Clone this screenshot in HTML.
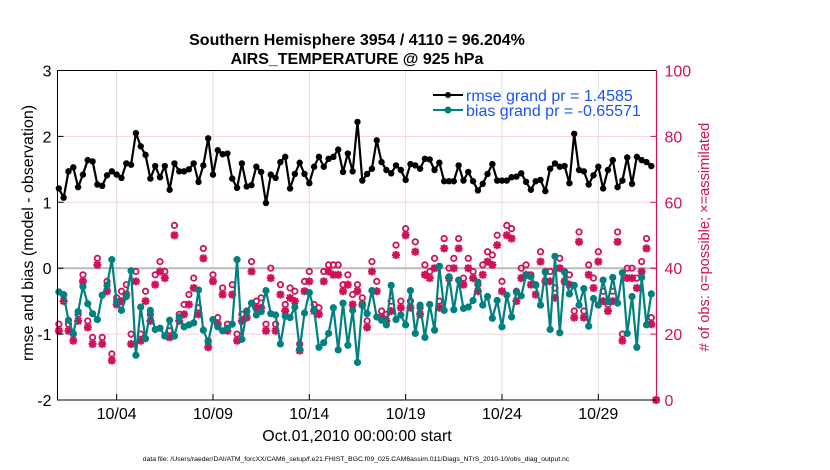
<!DOCTYPE html>
<html><head><meta charset="utf-8"><style>
html,body{margin:0;padding:0;background:#fff;}
svg{display:block;font-family:"Liberation Sans",sans-serif;}
</style></head><body>
<svg id="chart" width="830" height="470" viewBox="0 0 830 470" xmlns="http://www.w3.org/2000/svg">
<text x="357" y="45" text-anchor="middle" font-size="16" font-weight="bold">Southern Hemisphere 3954 / 4110 = 96.204%</text>
<text x="357" y="64" text-anchor="middle" font-size="16" font-weight="bold">AIRS_TEMPERATURE @ 925 hPa</text>
<g id="grid"></g>
<g id="marks"></g>
<g id="axes"></g>
<text transform="translate(33,233) rotate(-90)" text-anchor="middle" font-size="16">rmse and bias (model - observation)</text>
<text transform="translate(709,237) rotate(-90)" text-anchor="middle" font-size="14.6" fill="#d0105a"># of obs: o=possible; ×=assimilated</text>
<text x="357" y="441" text-anchor="middle" font-size="16">Oct.01,2010 00:00:00 start</text>
<text x="356" y="461" text-anchor="middle" font-size="6.8">data file: /Users/raeder/DAI/ATM_forcXX/CAM6_setup/f.e21.FHIST_BGC.f09_025.CAM6assim.011/Diags_NTrS_2010-10/obs_diag_output.nc</text>
<g>
<line x1="433" y1="95" x2="463" y2="95" stroke="#000" stroke-width="2"/><circle cx="448" cy="95" r="3" fill="#000"/>
<text x="466" y="101" font-size="16" fill="#1a55f0">rmse grand pr = 1.4585</text>
<line x1="433" y1="110" x2="463" y2="110" stroke="#008080" stroke-width="2"/><circle cx="448" cy="110" r="3.5" fill="#008080"/>
<text x="466" y="116" font-size="16" fill="#1a55f0">bias grand pr = -0.65571</text>
</g>
</svg>
<script>
const rmse = [1.21,1.07,1.47,1.53,1.23,1.42,1.64,1.62,1.27,1.25,1.41,1.47,1.42,1.37,1.59,1.57,2.05,1.85,1.72,1.36,1.55,1.38,1.55,1.19,1.59,1.47,1.47,1.50,1.59,1.31,1.56,1.97,
1.42,1.79,1.73,1.74,1.36,1.22,1.59,1.24,1.26,1.54,1.46,0.99,1.42,1.37,1.61,1.69,1.21,1.43,1.60,1.43,1.29,1.54,1.69,1.54,1.66,1.69,1.80,1.46,1.74,1.47,2.22,
1.33,1.43,1.51,1.94,1.61,1.49,1.44,1.56,1.49,1.34,1.58,1.56,1.51,1.66,1.65,1.49,1.60,1.32,1.32,1.32,1.56,1.33,1.46,1.32,1.18,1.28,1.43,1.58,1.33,1.33,1.33,
1.38,1.39,1.44,1.31,1.19,1.32,1.34,1.17,1.51,1.59,1.54,1.55,1.29,2.04,1.49,1.47,1.27,1.41,1.54,1.21,1.49,1.64,1.23,1.33,1.68,1.28,1.69,1.64,1.61,1.55,null];
const bias = [-0.36,-0.41,-0.79,-0.99,-0.66,-0.28,-0.54,-0.69,-0.78,-0.41,-0.26,0.13,-0.51,-0.64,-0.43,-0.04,-1.32,-0.59,-1.07,-0.64,-0.93,-0.91,-1.03,-0.79,-1.03,-0.74,-0.89,-0.86,-0.83,-0.33,-0.94,-1.12,
-0.78,-0.89,-0.95,-0.91,-0.85,0.13,-1.08,-0.66,-0.53,-0.71,-0.66,-0.34,-0.69,-0.71,-1.15,-0.73,-0.75,-0.59,-1.23,-0.68,-0.37,-0.63,-1.20,-1.13,-0.99,-0.60,-1.24,-0.53,-1.17,-0.64,-1.43,
-0.56,-0.69,-0.34,-0.74,-0.79,-0.86,-0.26,-0.78,-0.71,-0.86,-0.34,-0.99,-0.56,-1.05,-0.55,-0.94,0.03,-0.64,-0.13,-0.63,-0.18,-0.61,-0.59,-0.49,-0.21,-0.56,-0.43,-0.76,-0.49,-0.89,-0.41,
-0.74,-0.36,-0.42,-0.11,-0.13,-0.26,-0.56,-0.06,-0.93,0.18,-0.98,-0.06,-0.39,-0.26,-0.56,-0.31,-0.88,-0.46,-0.56,-0.18,-0.51,-0.14,-0.53,-0.07,-0.99,-0.43,-1.20,-0.14,-0.86,-0.39,null];
const nAssim = [21,30,21,18,24,36,22,17,41,17,33,12,29,30,32,17,36,18,30,24,35,39,37,19,50,24,26,29,34,26,43,16,
36,23,32,21,32,18,24,25,39,28,28,21,37,21,32,27,31,30,15,33,36,27,26,36,39,38,38,33,35,29,33,
29,22,39,33,25,24,27,44,28,50,28,45,26,38,37,40,28,46,37,40,46,35,40,37,33,38,42,41,47,33,50,
49,30,37,38,35,32,42,36,36,31,40,36,35,25,48,25,38,34,42,30,27,30,48,18,37,37,34,39,46,23,0];
const nPoss = [23,32,23,20,26,38,24,19,43,19,36,14,31,33,35,20,39,20,33,26,38,42,39,21,53,26,29,32,37,28,46,18,
38,25,34,23,35,20,26,27,42,30,31,23,40,23,35,29,34,33,17,36,39,29,28,39,41,41,41,35,38,32,35,
31,24,42,36,27,26,30,47,30,52,30,48,28,41,39,43,30,49,40,43,49,37,43,39,35,41,45,44,50,36,53,
52,33,40,41,38,35,45,39,39,34,43,39,38,27,51,27,41,37,45,33,29,33,51,20,40,40,37,42,49,25,0];
const leftTicks = [-2,-1,0,1,2,3];
const rightTicks = [0,20,40,60,80,100];
const dateTickDays = [3,8,13,18,23,28];
const dateTickLabels = ['10/04','10/09','10/14','10/19','10/24','10/29'];
const stepDays = 0.25;

const X0=57.5,X1=656.5,Y0=70.5,Y1=400;
const D0=-0.07,D1=31.02;
function xs(d){return X0+(d-D0)/(D1-D0)*(X1-X0);}
function yl(v){return Y1-(v+2)/5*(Y1-Y0);}
function yr(v){return Y1-v/100*(Y1-Y0);}
const NS='http://www.w3.org/2000/svg';
function mk(parent,tag,attrs){const e=document.createElementNS(NS,tag);for(const k in attrs)e.setAttribute(k,attrs[k]);parent.appendChild(e);return e;}
const grid=document.getElementById('grid'),marks=document.getElementById('marks'),axes=document.getElementById('axes');
const PINK='#d0105a';

dateTickDays.forEach((d,i)=>{
  const g=mk(grid,'line',{x1:xs(d),x2:xs(d),y1:Y0,y2:Y1,stroke:'#dddddd','stroke-width':1});
  
  
  const t=mk(axes,'line',{x1:xs(d),x2:xs(d),y1:Y1,y2:Y1-6,stroke:'#000','stroke-width':1});
  
  
  const l=mk(axes,'text',{x:xs(d),y:Y1+19,'text-anchor':'middle','font-size':16});
  l.textContent=dateTickLabels[i];
  
  
});
rightTicks.forEach(v=>{
  if(v>0&&v<100){
    const g=mk(grid,'line',{x1:X0,x2:X1,y1:yr(v),y2:yr(v),stroke:'#f3d3df','stroke-width':1});
    
    
  }
  const t=mk(axes,'line',{x1:X1,x2:X1-6,y1:yr(v),y2:yr(v),stroke:PINK,'stroke-width':1});
  
  
  const l=mk(axes,'text',{x:X1+8,y:yr(v)+6,'font-size':16,fill:PINK});
  l.textContent=v;
  
  
});
leftTicks.forEach(v=>{
  const t=mk(axes,'line',{x1:X0,x2:X0+6,y1:yl(v),y2:yl(v),stroke:'#000','stroke-width':1});
  
  
  const l=mk(axes,'text',{x:X0-6,y:yl(v)+6,'text-anchor':'end','font-size':16});
  l.textContent=v;
  
  
});
const zl=mk(grid,'line',{x1:X0,x2:X1,y1:yl(0),y2:yl(0),stroke:'#bbbbbb','stroke-width':2});



function series(vals,color,r,name){
  let d='';let pen=false;
  vals.forEach((v,i)=>{ if(v===null){pen=false;return;} d+=(pen?'L':'M')+xs(i*stepDays).toFixed(1)+','+yl(v).toFixed(1); pen=true;});
  const p=mk(marks,'path',{d:d,fill:'none',stroke:color,'stroke-width':2.2,'stroke-linejoin':'round'});
  
  
  vals.forEach((v,i)=>{ if(v===null)return;
    const c=mk(marks,'circle',{cx:xs(i*stepDays),cy:yl(v),r:r,fill:color});
    
    
  });
}
nPoss.forEach((v,i)=>{
  const c=mk(marks,'circle',{cx:xs(i*stepDays),cy:yr(v),r:2.7,fill:'none',stroke:PINK,'stroke-width':1.8});
  
  
});
nAssim.forEach((v,i)=>{
  const x=xs(i*stepDays),y=yr(v);
  const s=mk(marks,'path',{d:`M${x-4},${y}H${x+4}M${x},${y-4}V${y+4}M${x-3},${y-3}L${x+3},${y+3}M${x-3},${y+3}L${x+3},${y-3}`,stroke:PINK,'stroke-width':2.2});
  
  
});
series(bias,'#008080',3.6,'bias');
series(rmse,'#000000',3.2,'rmse');

const la=mk(axes,'path',{d:`M${X1},${Y0}H${X0}V${Y1}H${X1}`,fill:'none',stroke:'#000','stroke-width':1});


const ra=mk(axes,'line',{x1:X1,x2:X1,y1:Y0,y2:Y1,stroke:PINK,'stroke-width':1.2});


</script>
</body></html>
